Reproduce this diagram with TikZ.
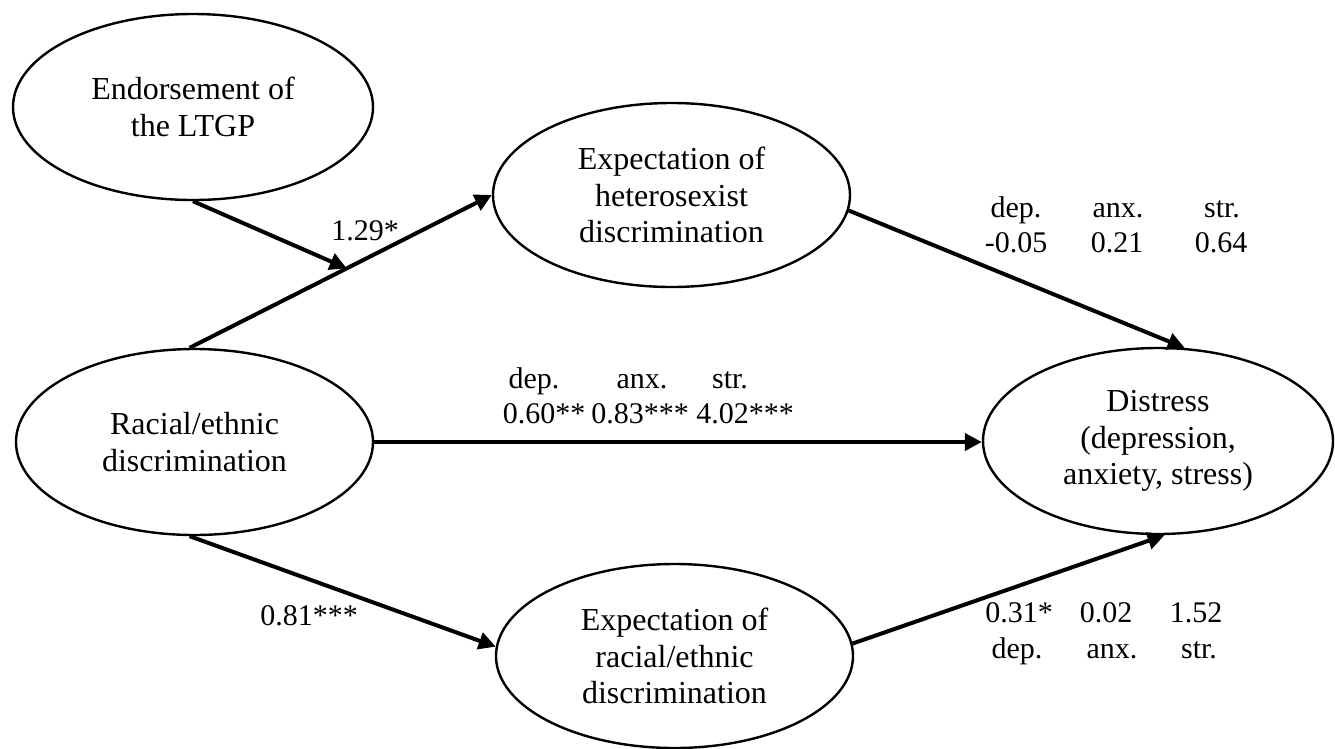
\documentclass[tikz,border=0pt]{standalone}
\usepackage{fontspec}
\setmainfont{Liberation Serif}
\usetikzlibrary{shapes.geometric,arrows.meta,calc}
\begin{document}
\begin{tikzpicture}[x=1pt,y=-1pt,
  latent/.style={draw, ellipse, line width=2.4pt, inner sep=0pt, align=center,
    font=\fontsize{32}{36.8}\selectfont},
  pathline/.style={line width=4pt, -{Triangle[length=17pt,width=17pt]}},
  coef/.style={anchor=base, inner sep=0pt, font=\fontsize{30}{34.5}\selectfont}]
\useasboundingbox (0,0) rectangle (1335,748);

\node[latent, minimum width=360pt, minimum height=186pt] (end) at (193,107) {Endorsement of\\the LTGP};
\node[latent, minimum width=357pt, minimum height=184pt] (exphet) at (671.5,195) {Expectation of\\heterosexist\\discrimination};
\node[latent, minimum width=357pt, minimum height=186pt] (rac) at (194.5,442) {Racial/ethnic\\discrimination};
\node[latent, minimum width=350pt, minimum height=186pt] (dist) at (1158,441) {Distress\\(depression,\\anxiety, stress)};
\node[latent, minimum width=357pt, minimum height=184pt] (exprac) at (674.5,656) {Expectation of\\racial/ethnic\\discrimination};

\draw[pathline] (rac.93) -- (exphet.west);
\coordinate (mod) at ($(rac.93)!0.52!(exphet.west)$);
\draw[pathline] (end.south) -- (mod);
\draw[pathline] (exphet.-5) -- (dist.74);
\draw[pathline] (rac.east) -- (rac.east -| dist.west);
\draw[pathline] (rac.-93) -- (exprac.177);
\draw[pathline] (exprac.4) -- (dist.-86);

\node[coef] (c129) at (365,240) {1.29*};
\node[coef] (c081) at (309,625) {0.81***};

\node[coef] (h1) at (1016,217) {dep.};
\node[coef] (h2) at (1118,217) {anx.};
\node[coef] (h3) at (1222,217) {str.};
\node[coef] (hv1) at (1016,252) {-0.05};
\node[coef] (hv2) at (1117,252) {0.21};
\node[coef] (hv3) at (1221,252) {0.64};

\node[coef] (d1) at (534,388) {dep.};
\node[coef] (d2) at (642,388) {anx.};
\node[coef] (d3) at (730,388) {str.};
\node[coef] (dv1) at (544,423) {0.60**};
\node[coef] (dv2) at (640,423) {0.83***};
\node[coef] (dv3) at (745,423) {4.02***};

\node[coef] (rv1) at (1019,622) {0.31*};
\node[coef] (rv2) at (1106,622) {0.02};
\node[coef] (rv3) at (1196,622) {1.52};
\node[coef] (r1) at (1017,658) {dep.};
\node[coef] (r2) at (1112,658) {anx.};
\node[coef] (r3) at (1199,658) {str.};
\end{tikzpicture}
\end{document}
